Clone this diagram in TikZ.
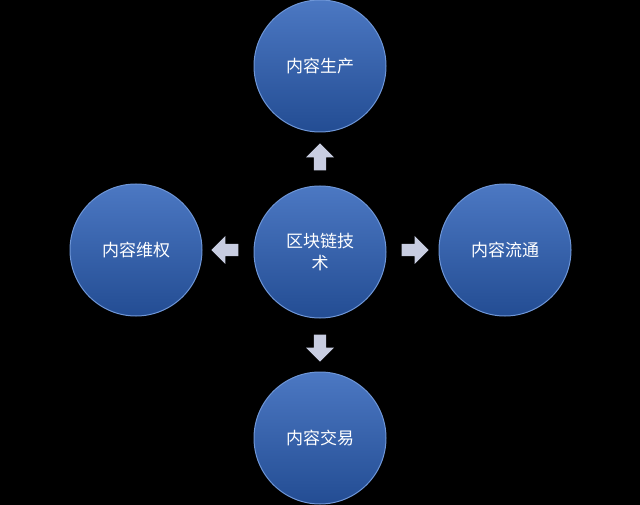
\documentclass[tikz,border=0pt]{standalone}
\usepackage{fontspec}
\newfontfamily\cjk{Noto Sans CJK SC}
\usetikzlibrary{shapes.arrows}
\definecolor{cblue}{RGB}{44,96,184}
\definecolor{cedge}{RGB}{110,150,215}
\definecolor{arr}{RGB}{200,205,225}
\tikzset{
  circ/.style={circle,minimum size=132pt,inner sep=0pt,draw=cedge,line width=1pt,
    top color=cblue!85!white,bottom color=cblue!80!black,text=white,font=\cjk\fontsize{17}{22}\selectfont,align=center},
  barrow/.style={single arrow,fill=arr,draw=none,minimum height=27pt,minimum width=28pt,
    single arrow head extend=4pt,inner sep=3pt}
}
\begin{document}
\begin{tikzpicture}[x=1pt,y=-1pt]
\fill[black] (0,0) rectangle (640,505);
\useasboundingbox (0,0) rectangle (640,505);
\node[circ] (c) at (320,252) {区块链技\\术};
\node[circ] (t) at (320,66) {内容生产};
\node[circ] (l) at (136,250) {内容维权};
\node[circ] (r) at (505,250) {内容流通};
\node[circ] (b) at (320,438) {内容交易};
\node[barrow,shape border rotate=90] (au) at (320,160) {};
\node[barrow,shape border rotate=180] (al) at (228,250) {};
\node[barrow,shape border rotate=0] (ar) at (412,250) {};
\node[barrow,shape border rotate=270] (ad) at (320,345) {};
\end{tikzpicture}
\end{document}
